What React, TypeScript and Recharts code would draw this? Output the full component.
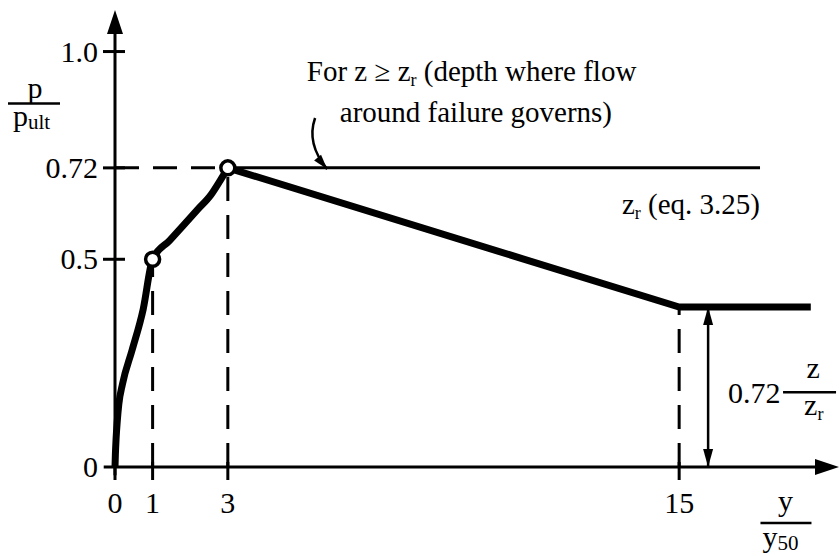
import React from 'react';
import { ComposedChart, Line, XAxis, YAxis, ReferenceLine, ReferenceDot } from 'recharts';

const FONT = "'Liberation Serif'";
const INK = '#000';

// initial curved branch: y/y50 vs p/pult
const curveY = [0, 0.01, 0.03, 0.06, 0.1, 0.2, 0.45, 0.75, 1, 1.45, 1.8, 2.2, 2.55, 2.8, 3];
const curveP = [0, 0.03, 0.07, 0.11, 0.15, 0.2, 0.28, 0.38, 0.5, 0.545, 0.58, 0.62, 0.655, 0.69, 0.72];

// straight falling branch and residual plateau
const tailY = [3, 15, 18.5];
const tailP = [0.72, 0.385, 0.385];

// open circles on the curve
const markerY = [1, 3];
const markerP = [0.5, 0.72];

const xTicks = [0, 1, 3, 15];
const yTicks = [0, 0.5, 0.72, 1.0];
const yTickLabels = ['0', '0.5', '0.72', '1.0'];

const X_MAX = 19.25;
const Y_MAX = 1.1;
const PEAK = 0.72;
const PLATEAU = 0.385;
const LIMIT_END = 17.15; // end of the thin z >= zr line
const SPAN_X = 15.77; // double arrow marking the residual value

const curve = curveY.map((x, i) => ({ x, p: curveP[i] }));
const tail = tailY.map((x, i) => ({ x, p: tailP[i] }));
const markers = markerY.map((x, i) => ({ x, p: markerP[i] }));

const arrowHead = (x: number, y: number, angle: number, len: number, half: number) => {
  const c = Math.cos(angle);
  const s = Math.sin(angle);
  const bx = x - len * c;
  const by = y - len * s;
  return `${x},${y} ${bx - s * half},${by + c * half} ${bx + s * half},${by - c * half}`;
};

const AxisArrow = (props: any) => {
  const { x1, y1, x2, y2 } = props;
  const a = Math.atan2(y2 - y1, x2 - x1);
  return (
    <g>
      <line x1={x1} y1={y1} x2={x2 - 10 * Math.cos(a)} y2={y2 - 10 * Math.sin(a)} stroke={INK} strokeWidth={3} />
      <polygon points={arrowHead(x2, y2, a, 24, 8)} fill={INK} />
    </g>
  );
};

const DoubleArrow = (props: any) => {
  const { x1, y1, x2, y2 } = props;
  const a = Math.atan2(y2 - y1, x2 - x1);
  return (
    <g>
      <line x1={x1} y1={y1} x2={x2} y2={y2} stroke={INK} strokeWidth={2.5} />
      <polygon points={arrowHead(x2, y2, a, 18, 5)} fill={INK} />
      <polygon points={arrowHead(x1, y1, a + Math.PI, 18, 5)} fill={INK} />
    </g>
  );
};

const CurvedPointer = (props: any) => {
  const { x1, y1, x2, y2 } = props;
  const qx = x1 - 9;
  const qy = (y1 + y2) / 2;
  const a = Math.atan2(y2 - qy, x2 - qx);
  return (
    <g>
      <path d={`M${x1},${y1} Q${qx},${qy} ${x2},${y2}`} fill="none" stroke={INK} strokeWidth={2.5} />
      <polygon points={arrowHead(x2, y2, a, 15, 4.5)} fill={INK} />
    </g>
  );
};

const ink = (size: number) => ({ fontFamily: FONT, fontSize: size, fill: INK });

const XTick = (props: any) => {
  const { x, y, payload } = props;
  return (
    <g>
      <line x1={x} y1={y - 5} x2={x} y2={y + 13} stroke={INK} strokeWidth={3} />
      <text x={x} y={y + 46} textAnchor="middle" style={ink(30)}>
        {payload.value}
      </text>
    </g>
  );
};

const YTick = (props: any) => {
  const { x, y, payload, index } = props;
  return (
    <g>
      {payload.value !== 0 && (
        <line x1={x - 12} y1={y} x2={x + 10} y2={y} stroke={INK} strokeWidth={3} />
      )}
      <text x={x - 17} y={y + 10} textAnchor="end" style={ink(30)}>
        {yTickLabels[index]}
      </text>
    </g>
  );
};

const Sub = ({ children, size = 18, shift = 6 }: any) => (
  <>
    <tspan style={{ fontSize: size }} dy={shift}>{children}</tspan>
    <tspan dy={-shift}> </tspan>
  </>
);

const YLabel = ({ cx, cy }: any) => (
  <g>
    <text x={cx - 80} y={cy + 46} textAnchor="middle" style={ink(30)}>p</text>
    <line x1={cx - 107} y1={cy + 52} x2={cx - 55} y2={cy + 52} stroke={INK} strokeWidth={2.5} />
    <text x={cx - 102} y={cy + 74} style={ink(30)}>
      p<tspan style={{ fontSize: 21 }} dy={3}>ult</tspan>
    </text>
  </g>
);

const XLabel = ({ cx, cy }: any) => (
  <g>
    <text x={cx + 1} y={cy + 44} textAnchor="middle" style={ink(30)}>y</text>
    <line x1={cx - 24} y1={cy + 56} x2={cx + 27} y2={cy + 56} stroke={INK} strokeWidth={2.5} />
    <text x={cx - 22} y={cy + 80} style={ink(30)}>
      y<tspan style={{ fontSize: 21 }} dy={3}>50</tspan>
    </text>
  </g>
);

const PlateauLabel = ({ cx, cy }: any) => (
  <g>
    <text x={cx} y={cy + 8} style={ink(30)}>0.72</text>
    <line x1={cx + 55} y1={cy - 3} x2={cx + 108} y2={cy - 3} stroke={INK} strokeWidth={2.5} />
    <text x={cx + 85} y={cy - 17} textAnchor="middle" style={ink(30)}>z</text>
    <text x={cx + 76} y={cy + 20} style={ink(30)}>
      z<tspan style={{ fontSize: 18 }} dy={5}>r</tspan>
    </text>
  </g>
);

const LimitLabel = ({ cx, cy }: any) => (
  <text x={cx} y={cy} textAnchor="end" style={ink(29)}>
    z<Sub size={18} shift={5}>r</Sub>(eq. 3.25)
  </text>
);

const NoteLabel = ({ cx, cy }: any) => (
  <g>
    <text x={cx} y={cy} style={ink(29)}>
      For z ≥ z<Sub size={18} shift={5}>r</Sub>(depth where flow
    </text>
    <text x={cx + 33} y={cy + 41} style={ink(29)}>
      around failure governs)
    </text>
  </g>
);

const dash = { stroke: INK, strokeWidth: 3, strokeDasharray: '24 14' };

export default function App() {
  return (
    <div style={{ position: 'absolute', left: 0, top: 0, background: '#fff' }}>
      <ComposedChart width={839} height={556} margin={{ top: 10, right: 0, bottom: 0, left: 0 }}>
        <XAxis
          type="number"
          dataKey="x"
          domain={[0, X_MAX]}
          ticks={xTicks}
          interval={0}
          height={89}
          axisLine={false}
          tickLine={false}
          tickSize={0}
          tickMargin={0}
          tick={<XTick />}
        />
        <YAxis
          type="number"
          dataKey="p"
          domain={[0, Y_MAX]}
          ticks={yTicks}
          interval={0}
          width={115}
          axisLine={false}
          tickLine={false}
          tickSize={0}
          tickMargin={0}
          tick={<YTick />}
        />

        <ReferenceLine segment={[{ x: 0, y: PEAK }, { x: 3, y: PEAK }]} ifOverflow="visible" {...dash} />
        <ReferenceLine segment={[{ x: 1, y: 0 }, { x: 1, y: 0.5 }]} ifOverflow="visible" {...dash} />
        <ReferenceLine segment={[{ x: 3, y: 0 }, { x: 3, y: PEAK }]} ifOverflow="visible" {...dash} />
        <ReferenceLine segment={[{ x: 15, y: 0 }, { x: 15, y: PLATEAU }]} ifOverflow="visible" {...dash} />
        <ReferenceLine
          segment={[{ x: 3, y: PEAK }, { x: LIMIT_END, y: PEAK }]}
          ifOverflow="visible"
          stroke={INK}
          strokeWidth={3}
        />

        <ReferenceLine segment={[{ x: -0.3, y: 0 }, { x: X_MAX, y: 0 }]} ifOverflow="visible" shape={AxisArrow} />
        <ReferenceLine segment={[{ x: 0, y: -0.02 }, { x: 0, y: Y_MAX }]} ifOverflow="visible" shape={AxisArrow} />
        <ReferenceLine segment={[{ x: SPAN_X, y: 0 }, { x: SPAN_X, y: PLATEAU }]} ifOverflow="visible" shape={DoubleArrow} />
        <ReferenceLine segment={[{ x: 5.32, y: 0.84 }, { x: 5.64, y: 0.717 }]} ifOverflow="visible" shape={CurvedPointer} />

        <Line data={curve} dataKey="p" type="monotone" stroke={INK} strokeWidth={7} dot={false} isAnimationActive={false} />
        <Line data={tail} dataKey="p" type="linear" stroke={INK} strokeWidth={7} dot={false} isAnimationActive={false} />
        <Line
          data={markers}
          dataKey="p"
          stroke="none"
          dot={{ r: 7, fill: '#fff', stroke: INK, strokeWidth: 3.5 }}
          activeDot={false}
          isAnimationActive={false}
        />

        <ReferenceDot x={0} y={1.0} ifOverflow="visible" shape={YLabel} />
        <ReferenceDot x={17.8} y={0} ifOverflow="visible" shape={XLabel} />
        <ReferenceDot x={16.3} y={0.173} ifOverflow="visible" shape={PlateauLabel} />
        <ReferenceDot x={LIMIT_END} y={0.609} ifOverflow="visible" shape={LimitLabel} />
        <ReferenceDot x={5.1} y={0.928} ifOverflow="visible" shape={NoteLabel} />
      </ComposedChart>
    </div>
  );
}
